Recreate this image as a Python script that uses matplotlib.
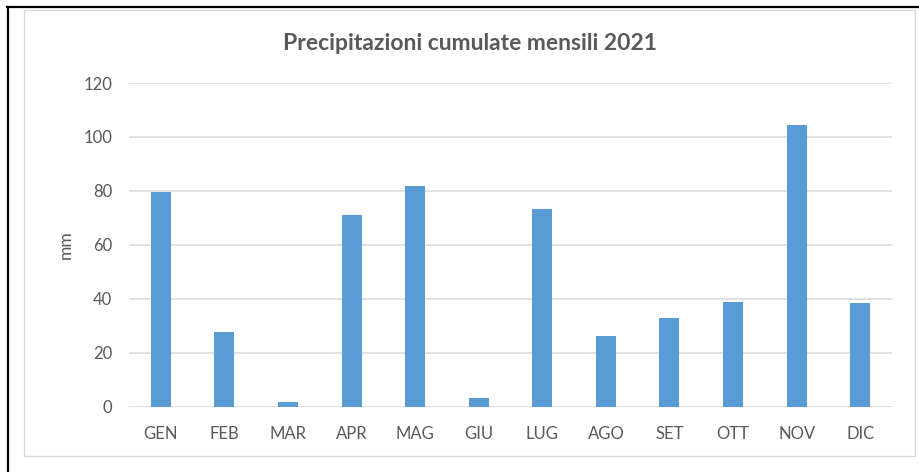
import matplotlib
matplotlib.use("Agg")
import matplotlib.pyplot as plt
from matplotlib.patches import Rectangle
from matplotlib.lines import Line2D

months = ["GEN", "FEB", "MAR", "APR", "MAG", "GIU", "LUG", "AGO", "SET", "OTT", "NOV", "DIC"]
rain_mm = [79.7, 27.7, 1.7, 71.2, 81.8, 3.3, 73.4, 26.2, 32.8, 38.8, 104.3, 38.3]
y_ticks = [0, 20, 40, 60, 80, 100, 120]

plt.rcParams['font.family'] = ['Lato', 'DejaVu Sans']
text_col = '#595959'
grid_col = '#d9d9d9'

W, H = 920, 472
fig = plt.figure(figsize=(W / 100, H / 100), dpi=100)
fig.patch.set_facecolor('white')

# outer black border (page frame) and gray chart frame
fig.add_artist(Line2D([7 / W, 918 / W], [1 - 7 / H, 1 - 7 / H], color='black', lw=1.6))
fig.add_artist(Line2D([8 / W, 8 / W], [0, 1 - 7 / H], color='black', lw=1.6))
fig.add_artist(Rectangle((24 / W, 1 - 456 / H), (915 - 24) / W, (456 - 10) / H,
                         fill=False, edgecolor=grid_col, lw=1.0))

ax = fig.add_axes([129 / W, 1 - 406.5 / H, (892 - 129) / W, (406.5 - 83) / H])
ax.bar(range(len(months)), rain_mm, width=0.315, color='#5b9bd5', zorder=3)

ax.set_xlim(-0.5, len(months) - 0.5)
ax.set_ylim(0, 120)
ax.set_yticks(y_ticks)
ax.set_xticks(range(len(months)))
ax.set_xticklabels(months)
ax.grid(axis='y', color=grid_col, lw=1.1, zorder=0)
for s in ax.spines.values():
    s.set_visible(False)
ax.tick_params(length=0, colors=text_col, labelsize=12)
ax.tick_params(axis='x', pad=14)
ax.tick_params(axis='y', pad=12)
ax.set_ylabel("mm", color=text_col, fontsize=12.5)
ax.yaxis.set_label_coords(-0.072, 0.5)

fig.text(470 / W, 1 - 43 / H, "Precipitazioni cumulate mensili 2021", ha='center', va='center',
         fontsize=16.5, fontweight='bold', color=text_col)

fig.savefig("out.png", dpi=100)
